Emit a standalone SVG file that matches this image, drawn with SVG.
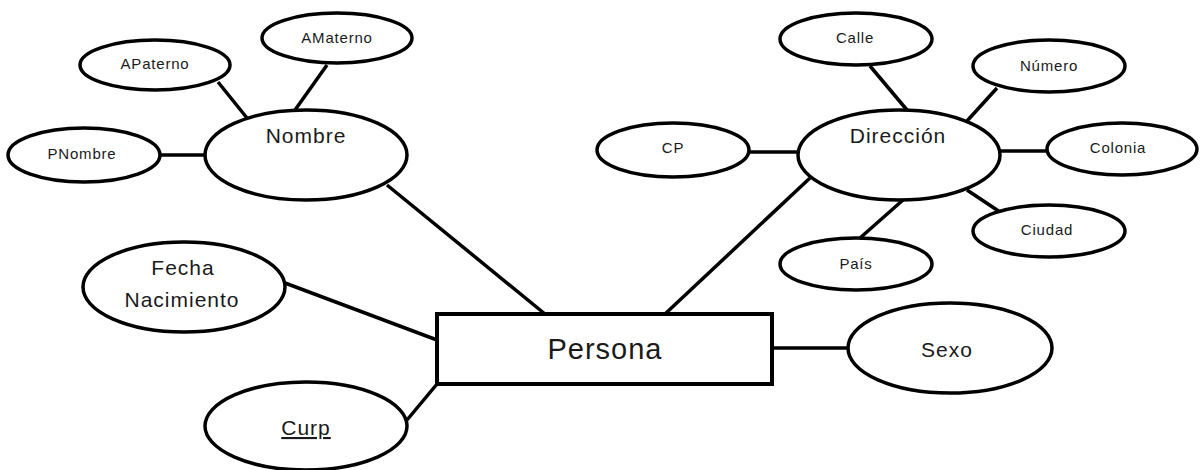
<svg xmlns="http://www.w3.org/2000/svg" width="1200" height="470" viewBox="0 0 1200 470">
  <style>
    .ent { fill: #fff; stroke: #000; stroke-width: 4; }
    .attr { fill: #fff; stroke: #000; stroke-width: 3.5; }
    .link { stroke: #000; stroke-width: 3.5; fill: none; }
    text { font-family: "Liberation Sans", Arial, sans-serif; fill: #1a1a1a; text-anchor: middle; }
    .sm { font-size: 15px; letter-spacing: 0.8px; }
    .md { font-size: 21px; letter-spacing: 1px; }
    .lg { font-size: 29px; letter-spacing: 1px; }
  </style>
  <rect width="1200" height="470" fill="#fff"/>

  <!-- relationships between entity and attributes -->
  <g id="connectors">
    <line class="link" x1="218" y1="82" x2="247" y2="118"/>
    <line class="link" x1="327" y1="65" x2="295" y2="110"/>
    <line class="link" x1="160" y1="155" x2="205" y2="155"/>
    <line class="link" x1="387" y1="185" x2="545" y2="314"/>
    <line class="link" x1="870" y1="66" x2="907" y2="110"/>
    <line class="link" x1="997" y1="88" x2="967" y2="121"/>
    <line class="link" x1="1000" y1="151" x2="1047" y2="151"/>
    <line class="link" x1="750" y1="152" x2="798" y2="152"/>
    <line class="link" x1="967" y1="190" x2="1000" y2="212"/>
    <line class="link" x1="903" y1="200" x2="860" y2="238"/>
    <line class="link" x1="810" y1="178" x2="665" y2="314"/>
    <line class="link" x1="285" y1="283" x2="437" y2="340"/>
    <line class="link" x1="407" y1="420" x2="437" y2="384"/>
    <line class="link" x1="772" y1="348" x2="848" y2="348"/>
  </g>

  <g id="persona">
    <rect class="ent" x="437" y="314" width="335" height="70"/>
    <text class="lg" x="605" y="359">Persona</text>
  </g>

  <g id="nombre">
    <ellipse class="attr" cx="306" cy="155" rx="101" ry="45"/>
    <text class="md" x="306" y="143">Nombre</text>
  </g>
  <g id="apaterno">
    <ellipse class="attr" cx="155" cy="65" rx="75" ry="25"/>
    <text class="sm" x="155" y="69">APaterno</text>
  </g>
  <g id="amaterno">
    <ellipse class="attr" cx="337" cy="38" rx="75" ry="25"/>
    <text class="sm" x="337" y="43">AMaterno</text>
  </g>
  <g id="pnombre">
    <ellipse class="attr" cx="84" cy="155" rx="76" ry="27"/>
    <text class="sm" x="82" y="159">PNombre</text>
  </g>

  <g id="direccion">
    <ellipse class="attr" cx="899" cy="155" rx="101" ry="45"/>
    <text class="md" x="898" y="143">Dirección</text>
  </g>
  <g id="calle">
    <ellipse class="attr" cx="856" cy="39" rx="76" ry="26"/>
    <text class="sm" x="855" y="43">Calle</text>
  </g>
  <g id="numero">
    <ellipse class="attr" cx="1049" cy="66" rx="76" ry="26"/>
    <text class="sm" x="1049" y="71">Número</text>
  </g>
  <g id="cp">
    <ellipse class="attr" cx="673" cy="150" rx="76" ry="27"/>
    <text class="sm" x="673" y="153">CP</text>
  </g>
  <g id="colonia">
    <ellipse class="attr" cx="1122" cy="149" rx="75" ry="26"/>
    <text class="sm" x="1118" y="153">Colonia</text>
  </g>
  <g id="ciudad">
    <ellipse class="attr" cx="1049" cy="231" rx="76" ry="26"/>
    <text class="sm" x="1047" y="235">Ciudad</text>
  </g>
  <g id="pais">
    <ellipse class="attr" cx="856" cy="264" rx="76" ry="26"/>
    <text class="sm" x="856" y="269">País</text>
  </g>

  <g id="fecha-nacimiento">
    <ellipse class="attr" cx="184" cy="287" rx="101" ry="45"/>
    <text class="md" x="183" y="275">Fecha</text>
    <text class="md" x="182" y="307">Nacimiento</text>
  </g>
  <g id="curp">
    <ellipse class="attr" cx="306" cy="426" rx="101" ry="44"/>
    <text class="md" x="306" y="435" text-decoration="underline">Curp</text>
  </g>
  <g id="sexo">
    <ellipse class="attr" cx="950" cy="348" rx="102" ry="45"/>
    <text class="md" x="947" y="357">Sexo</text>
  </g>
</svg>
